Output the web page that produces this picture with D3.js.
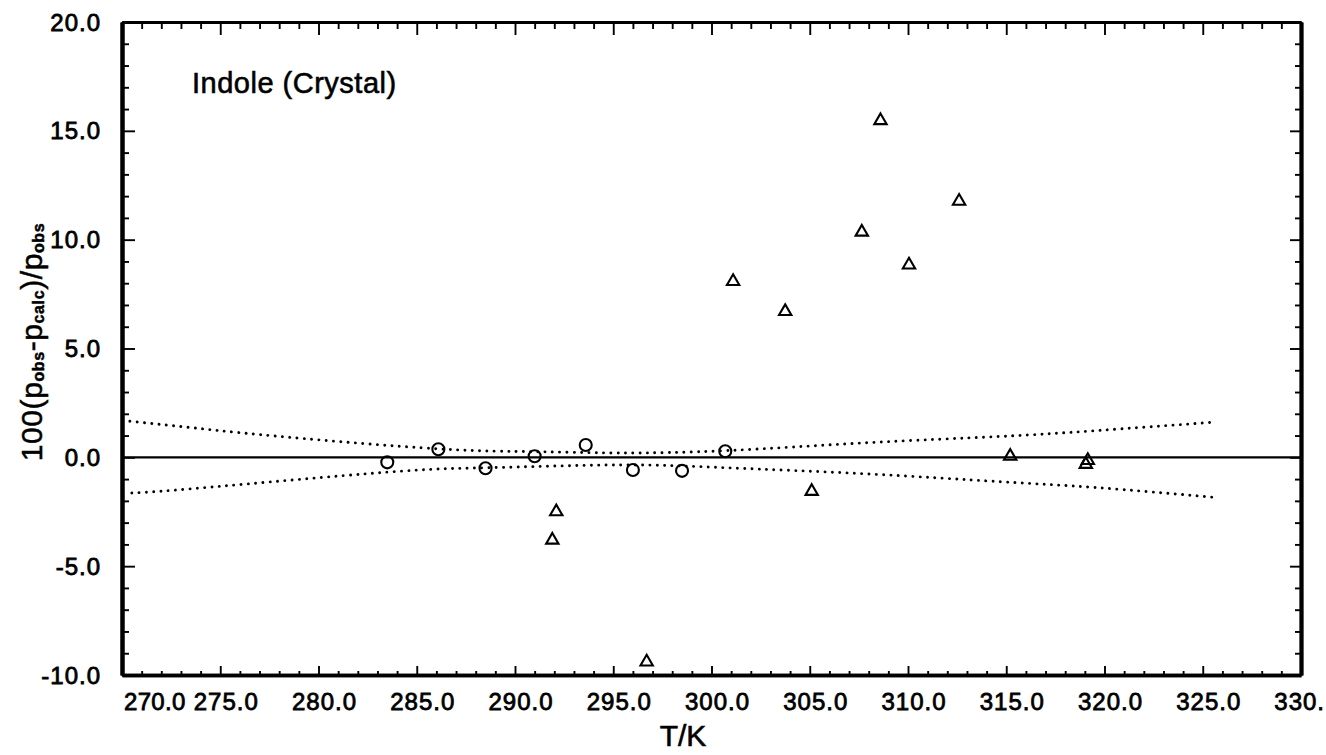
<!DOCTYPE html>
<html>
<head>
<meta charset="utf-8">
<script src="https://cdn.jsdelivr.net/npm/d3@7"></script>
<style>
  html, body { margin: 0; padding: 0; background: #fff; }
  svg { display: block; font-family: "Liberation Sans", Arial, Helvetica, sans-serif; }
</style>
</head>
<body>
<svg id="chart" width="1326" height="755"></svg>
<script>
// ---- data ----
const xDomain = [270, 330];
const yDomain = [-10, 20];
const xMajorTicks = [270, 275, 280, 285, 290, 295, 300, 305, 310, 315, 320, 325, 330];
const yMajorTicks = [-10, -5, 0, 5, 10, 15, 20];
const xTickLabels = ["270.0","275.0","280.0","285.0","290.0","295.0","300.0","305.0","310.0","315.0","320.0","325.0","330."];
const yTickLabels = ["-10.0","-5.0","0.0","5.0","10.0","15.0","20.0"];

const circleT = [283.5, 286.1, 288.5, 291.0, 293.6, 296.0, 298.5, 300.7];
const circleD = [-0.23, 0.37, -0.50, 0.05, 0.57, -0.58, -0.62, 0.28];

const triangleT = [291.9, 292.1, 296.7, 301.1, 303.75, 305.1, 307.65, 308.6, 310.05, 312.6, 315.2, 319.05, 319.15];
const triangleD = [-3.8, -2.5, -9.4, 8.08, 6.7, -1.56, 10.35, 15.47, 8.84, 11.77, 0.05, -0.32, -0.14];

const upperT = [270.4, 274.1, 278.4, 286.1, 291.0, 295.3, 300.8, 307.9, 314.7, 319.6, 325.5];
const upperD = [1.66, 1.31, 0.93, 0.39, 0.26, 0.20, 0.31, 0.67, 0.96, 1.23, 1.61];
const lowerT = [270.5, 274.1, 283.5, 288.6, 295.3, 300.8, 307.9, 314.7, 319.6, 325.5];
const lowerD = [-1.64, -1.40, -0.68, -0.48, -0.35, -0.48, -0.76, -1.12, -1.39, -1.83];

const titleText = "Indole (Crystal)";
const xTitle = "T/K";

// ---- layout ----
const L = 122, R = 1301, T = 22, B = 675;
const svg = d3.select("#chart");
const x = d3.scaleLinear().domain(xDomain).range([L, R]);
const y = d3.scaleLinear().domain(yDomain).range([B, T]);

const xMinor = d3.range(xDomain[0], xDomain[1] + 0.001, 1).filter(v => !xMajorTicks.includes(v));
const yMinor = d3.range(yDomain[0], yDomain[1] + 0.001, 1).filter(v => !yMajorTicks.includes(v));

function styleAxis(g, w) {
  g.select(".domain").attr("stroke", "#000").attr("stroke-width", w);
  g.selectAll(".tick line").attr("stroke", "#000").attr("stroke-width", 1.9);
  g.selectAll(".tick text").remove();
}

// bottom
svg.append("g").attr("transform", `translate(0,${B})`)
  .call(d3.axisBottom(x).tickValues(xMajorTicks).tickSizeInner(-9).tickSizeOuter(0))
  .call(g => styleAxis(g, 3.4));
svg.append("g").attr("transform", `translate(0,${B})`)
  .call(d3.axisBottom(x).tickValues(xMinor).tickSizeInner(-4).tickSizeOuter(0))
  .call(g => styleAxis(g, 3.4));
// top
svg.append("g").attr("transform", `translate(0,${T})`)
  .call(d3.axisTop(x).tickValues(xMajorTicks).tickSizeInner(-13).tickSizeOuter(0))
  .call(g => styleAxis(g, 2.8));
svg.append("g").attr("transform", `translate(0,${T})`)
  .call(d3.axisTop(x).tickValues(xMinor).tickSizeInner(-7).tickSizeOuter(0))
  .call(g => styleAxis(g, 2.8));
// left
svg.append("g").attr("transform", `translate(${L},0)`)
  .call(d3.axisLeft(y).tickValues(yMajorTicks).tickSizeInner(-13).tickSizeOuter(0))
  .call(g => styleAxis(g, 4));
svg.append("g").attr("transform", `translate(${L},0)`)
  .call(d3.axisLeft(y).tickValues(yMinor).tickSizeInner(-7).tickSizeOuter(0))
  .call(g => styleAxis(g, 4));
// right
svg.append("g").attr("transform", `translate(${R},0)`)
  .call(d3.axisRight(y).tickValues(yMajorTicks).tickSizeInner(-11).tickSizeOuter(0))
  .call(g => styleAxis(g, 3.8));
svg.append("g").attr("transform", `translate(${R},0)`)
  .call(d3.axisRight(y).tickValues(yMinor).tickSizeInner(-6).tickSizeOuter(0))
  .call(g => styleAxis(g, 3.8));

// tick labels
const labelStyle = s => s.attr("font-size", 24).attr("fill", "#000")
  .attr("stroke", "#000").attr("stroke-width", 0.8).attr("letter-spacing", 1);

const nX = xMajorTicks.length;
svg.append("g").selectAll("text").data(xMajorTicks).join("text")
  .attr("x", (d, i) => i === 0 ? L + 2 : (i === nX - 1 ? 1325 : x(d) + 6))
  .attr("y", 710)
  .attr("text-anchor", (d, i) => i === 0 ? "start" : (i === nX - 1 ? "end" : "middle"))
  .attr("letter-spacing", (d, i) => i === 0 ? 0.3 : 1)
  .text((d, i) => xTickLabels[i])
  .call(s => s.attr("font-size", 24).attr("fill", "#000").attr("stroke", "#000").attr("stroke-width", 0.8));

svg.append("g").selectAll("text").data(yMajorTicks).join("text")
  .attr("x", 101)
  .attr("y", d => y(d))
  .attr("dy", "0.36em")
  .attr("text-anchor", "end")
  .text((d, i) => yTickLabels[i])
  .call(labelStyle);

// zero line
const line = d3.line().x(d => x(d[0])).y(d => y(d[1]));
svg.append("path")
  .attr("d", line([[xDomain[0], 0], [xDomain[1], 0]]))
  .attr("stroke", "#000").attr("stroke-width", 2.3).attr("fill", "none");

// dotted bands
const curve = d3.line().x(d => x(d[0])).y(d => y(d[1])).curve(d3.curveNatural);
[[upperT, upperD], [lowerT, lowerD]].forEach(([ts, ds]) => {
  svg.append("path")
    .attr("d", curve(ts.map((t, i) => [t, ds[i]])))
    .attr("fill", "none").attr("stroke", "#000")
    .attr("stroke-width", 2.9).attr("stroke-linecap", "round")
    .attr("stroke-dasharray", "0.01 7.3");
});

// circles
svg.append("g").selectAll("circle").data(circleT).join("circle")
  .attr("cx", d => x(d))
  .attr("cy", (d, i) => y(circleD[i]))
  .attr("r", 6)
  .attr("fill", "none").attr("stroke", "#000").attr("stroke-width", 2.1);

// triangles
const tri = d3.symbol().type(d3.symbolTriangle).size(66);
svg.append("g").selectAll("path").data(triangleT).join("path")
  .attr("transform", (d, i) => `translate(${x(d)},${y(triangleD[i])})`)
  .attr("d", tri)
  .attr("fill", "none").attr("stroke", "#000").attr("stroke-width", 2.1)
  .attr("stroke-linejoin", "miter");

// title
svg.append("text")
  .attr("x", 192).attr("y", 93)
  .attr("font-size", 29).attr("fill", "#000")
  .attr("stroke", "#000").attr("stroke-width", 0.6)
  .attr("letter-spacing", 0.5)
  .text(titleText);

// x axis title
svg.append("text")
  .attr("x", 683).attr("y", 746)
  .attr("text-anchor", "middle")
  .attr("font-size", 30).attr("fill", "#000")
  .attr("stroke", "#000").attr("stroke-width", 0.6)
  .text(xTitle);

// y axis title
const yt = svg.append("text")
  .attr("transform", "translate(42,342) rotate(-90)")
  .attr("text-anchor", "middle")
  .attr("font-size", 30).attr("fill", "#000")
  .attr("stroke", "#000").attr("stroke-width", 0.5)
  .attr("letter-spacing", 0.6);
const parts = [["100(p", false], ["obs", true], ["-p", false], ["calc", true], [")/p", false], ["obs", true]];
parts.forEach(([t, sub]) => {
  yt.append("tspan")
    .attr("font-size", sub ? 16 : 30)
    .attr("font-weight", sub ? "bold" : "normal")
    .attr("dy", sub ? 2 : -2)
    .text(t);
});
yt.select("tspan").attr("dy", 0);
</script>
</body>
</html>
